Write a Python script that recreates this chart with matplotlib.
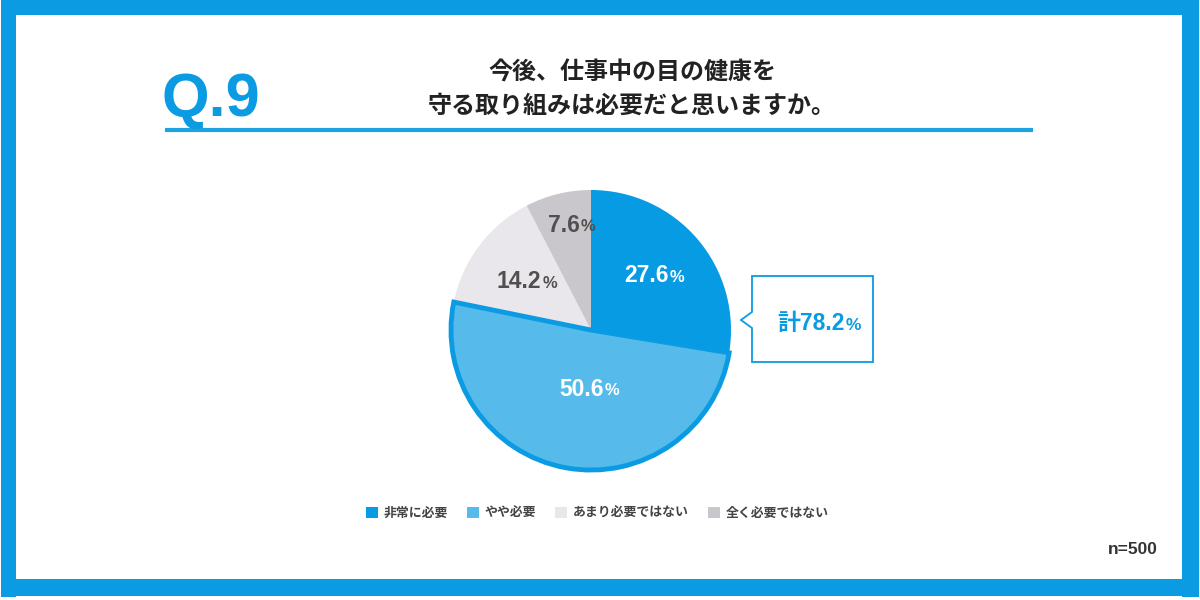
import matplotlib
matplotlib.use("Agg")
import matplotlib.pyplot as plt
from matplotlib.patches import Rectangle, Polygon, Patch
import numpy as np

# ---- data ----
categories = ["非常に必要", "やや必要", "あまり必要ではない", "全く必要ではない"]
values = [27.6, 50.6, 14.2, 7.6]
colors = ["#069be3", "#56bbeb", "#e9e7eb", "#c9c7cb"]
label_colors = ["white", "white", "#505050", "#505050"]
title_lines = ["今後、仕事中の目の健康を", "守る取り組みは必要だと思いますか。"]
question_no = "Q.9"
sample_note = "n=500"
total_prefix = "計"

JP = ["Noto Sans CJK JP", "DejaVu Sans"]
NUM = ["Liberation Sans", "Noto Sans CJK JP", "DejaVu Sans"]
BLUE = "#0a9be3"

fig = plt.figure(figsize=(12, 6), dpi=100)
fig.patch.set_facecolor("white")

# overlay axes in pixel coordinates
ov = fig.add_axes([0, 0, 1, 1])
ov.set_xlim(0, 1200)
ov.set_ylim(600, 0)
ov.axis("off")

# frame (four bands)
for (x0, y0, w, h) in [(1, 0, 15, 597), (1, 0, 1198, 15), (1182, 0, 17, 597), (1, 579, 1198, 17)]:
    ov.add_patch(Rectangle((x0, y0), w, h, facecolor=BLUE, edgecolor="none", zorder=5))
# title line
ov.plot([165, 1033], [130, 130], color="#1ea2e2", linewidth=3, solid_capstyle="butt")

ov.text(162, 116, question_no, fontsize=44, fontweight="bold", color=BLUE,
        family=NUM, ha="left", va="baseline")
ov.text(632, 73, title_lines[0], fontsize=17.3, fontweight="bold", color="#222222",
        family=JP, ha="center", va="center")
ov.text(632, 106, title_lines[1], fontsize=17.3, fontweight="bold", color="#222222",
        family=JP, ha="center", va="center")
ov.text(1158, 549, sample_note, fontsize=12.5, fontweight="bold", color="#333333",
        family=NUM, ha="right", va="center")

# callout
box = Polygon([(752, 276), (873, 276), (873, 362), (752, 362), (752, 328),
               (741, 320), (752, 312)], closed=True, facecolor="white",
              edgecolor=BLUE, linewidth=1.3, joinstyle="miter")
ov.add_patch(box)
total = values[0] + values[1]
ov.text(845, 323, f"{total_prefix}{total:.1f}", fontsize=16.5, fontweight="bold",
        color=BLUE, family=NUM, ha="right", va="center")
ov.text(846, 325, "%", fontsize=12.5, fontweight="bold", color=BLUE,
        family=NUM, ha="left", va="center")

# pie
R = 140
ax = fig.add_axes([(591 - 200) / 1200, (270 - 200) / 600, 400 / 1200, 400 / 600])
explode = [0, 0.035, 0, 0]
wedges, _ = ax.pie(values, colors=colors, startangle=90, counterclock=False,
                   radius=R, explode=explode,
                   wedgeprops=dict(linewidth=0, edgecolor="none"))
ax.set_xlim(-200, 200)
ax.set_ylim(-200, 200)
ax.set_aspect("equal")
ax.axis("off")
wedges[1].set_edgecolor(BLUE)
wedges[1].set_linewidth(3.5)
wedges[1].set_joinstyle("miter")
wedges[1].set_zorder(3)
wedges[0].set_zorder(4)

label_r = [0.6, 0.43, 0.57, 0.77]
label_dx = [0, 10, 0, 0]
start = 90.0
for i, v in enumerate(values):
    span = v / 100 * 360
    mid = np.deg2rad(start - span / 2)
    start -= span
    x = R * label_r[i] * np.cos(mid) + label_dx[i]
    y = R * label_r[i] * np.sin(mid)
    # number with smaller % sign; composite roughly centred on (x, y)
    ax.text(x + 14, y, f"{v:.1f}", fontsize=16.5, fontweight="bold",
            color=label_colors[i], family=NUM, ha="right", va="center", zorder=6)
    ax.text(x + 15, y - 1.5, "%", fontsize=12, fontweight="bold",
            color=label_colors[i], family=NUM, ha="left", va="center", zorder=6)

# legend
handles = [Patch(facecolor=c, edgecolor="none") for c in colors]
fig.legend(handles, categories, loc="center", bbox_to_anchor=(597 / 1200, 1 - 513 / 600),
           ncol=4, frameon=False, handlelength=0.95, handleheight=0.95,
           handletextpad=0.4, columnspacing=1.5,
           prop=dict(family=JP, size=9.3, weight="bold"), labelcolor="#444444")

fig.savefig("out.png", dpi=100, facecolor="white")
